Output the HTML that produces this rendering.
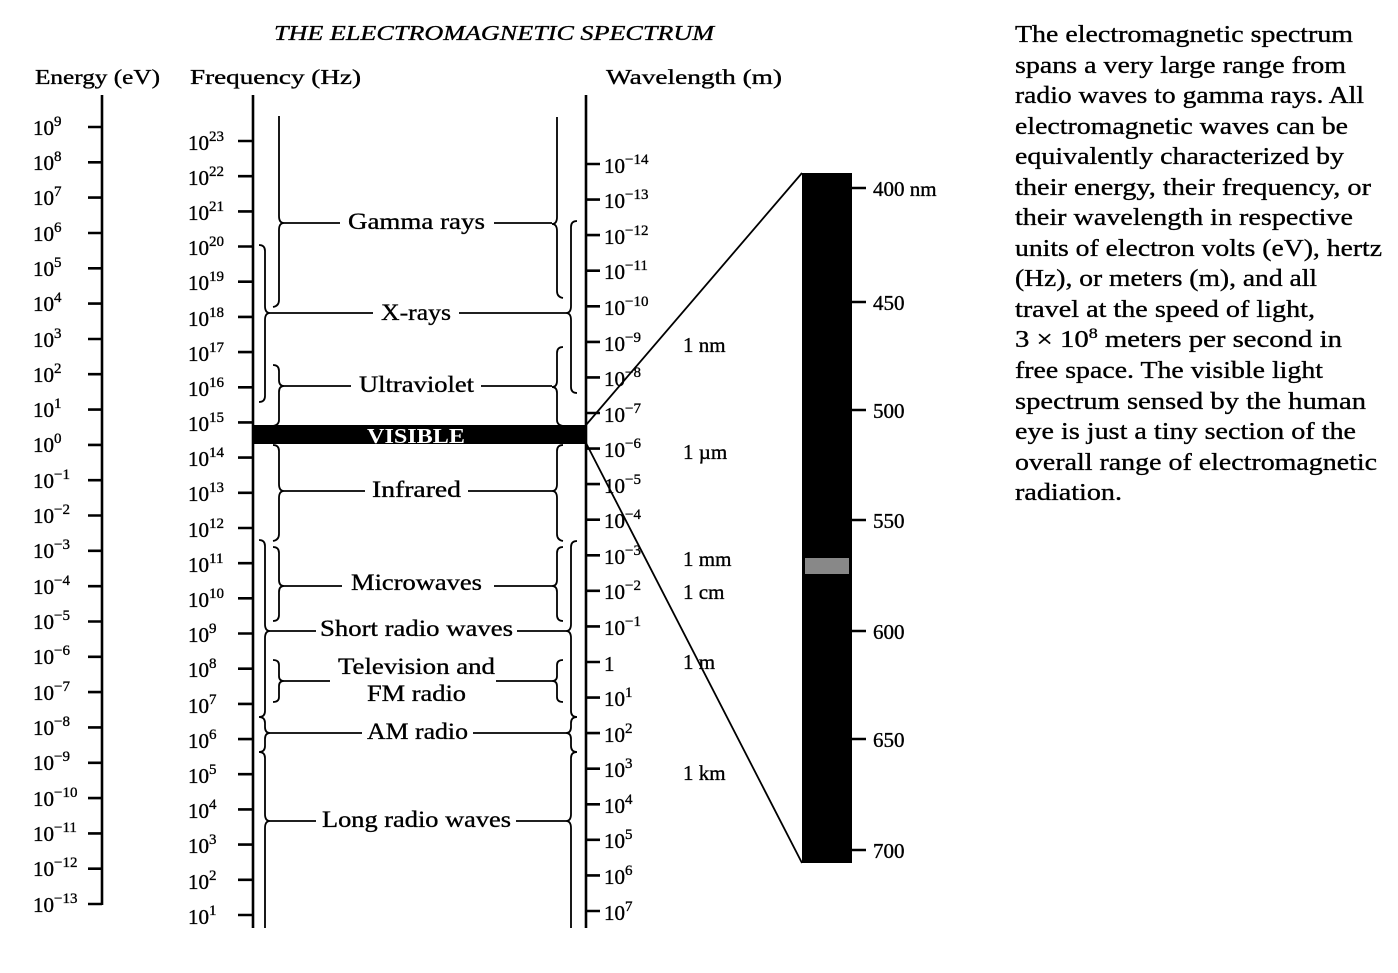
<!DOCTYPE html>
<html><head><meta charset="utf-8"><style>
html,body{margin:0;padding:0;background:#fff;}
svg{display:block;}
text{font-family:"Liberation Serif",serif;fill:#000;stroke:#000;stroke-width:0.35px;}
.n{font-size:21px;}
.s{font-size:15px;}
.lab{font-size:23px;}
.para{font-size:24px;}
</style></head><body>
<svg width="1398" height="973" viewBox="0 0 1398 973" xmlns="http://www.w3.org/2000/svg">
<g stroke="#000" fill="none" stroke-width="2.6">
<line x1="102" y1="95" x2="102" y2="905"/>
<line x1="253" y1="95" x2="253" y2="928"/>
<line x1="586" y1="95" x2="586" y2="928"/>
<path d="M88 127H102M88 162.3H102M88 197.6H102M88 233H102M88 268.3H102M88 303.6H102M88 339H102M88 374.2H102M88 409.6H102M88 444.9H102M88 480.2H102M88 515.5H102M88 550.8H102M88 586.2H102M88 621.5H102M88 656.8H102M88 692.1H102M88 727.4H102M88 762.8H102M88 798.1H102M88 833.4H102M88 868.7H102M88 904H102"/>
<path d="M238 141H253M238 176.2H253M238 211.4H253M238 246.5H253M238 281.7H253M238 316.9H253M238 352.1H253M238 387.3H253M238 422.4H253M238 457.6H253M238 492.8H253M238 528H253M238 563.2H253M238 598.3H253M238 633.5H253M238 668.7H253M238 703.9H253M238 739.1H253M238 774.2H253M238 809.4H253M238 844.6H253M238 879.8H253M238 915H253"/>
<path d="M586 164H600M586 199.6H600M586 235.1H600M586 270.7H600M586 306.3H600M586 341.9H600M586 377.4H600M586 413H600M586 448.6H600M586 484.1H600M586 519.7H600M586 555.3H600M586 590.8H600M586 626.4H600M586 662H600M586 697.6H600M586 733.1H600M586 768.7H600M586 804.3H600M586 839.8H600M586 875.4H600M586 911H600"/>
<path d="M852 188H866M852 302H866M852 410H866M852 520H866M852 631H866M852 739H866M852 850H866"/>
</g>
<g stroke="#000" fill="none" stroke-width="1.8">
<line x1="586" y1="425" x2="802" y2="173"/>
<line x1="586" y1="443" x2="802" y2="863"/>
<path d="M279 116V216Q279 223 284 223Q279 223 279 230V300Q279 306 273 307"/>
<path d="M259 245Q265 245 265 251V306Q265 313 270 313Q265 313 265 320V396Q265 402 259 402"/>
<path d="M273 365Q279 365 279 371V380Q279 386 284 386Q279 386 279 392V420Q279 425 273 426"/>
<path d="M273 445Q279 445 279 451V484Q279 491 284 491Q279 491 279 498V534Q279 540 273 541"/>
<path d="M259 540Q265 540 265 546V624Q265 631 270 631Q265 631 265 638V711Q265 717 259 717Q265 717 265 723V727Q265 733 270 733Q265 733 265 739V746Q265 752 259 752Q265 752 265 758V814Q265 821 270 821Q265 821 265 828V928"/>
<path d="M273 547Q279 547 279 553V580Q279 586 284 586Q279 586 279 592V615Q279 621 273 621"/>
<path d="M273 660Q279 660 279 665V676Q279 681 284 681Q279 681 279 686V697Q279 702 273 702"/>
<path d="M557 117V217Q557 224 552 224Q557 224 557 231V291Q557 297 563 298"/>
<path d="M577 221Q571 221 571 227V306Q571 313 566 313Q571 313 571 320V387Q571 393 577 393"/>
<path d="M563 347Q557 347 557 353V381Q557 387 552 387Q557 387 557 393V420Q557 425 563 426"/>
<path d="M563 445Q557 445 557 451V484Q557 491 552 491Q557 491 557 498V534Q557 540 563 541"/>
<path d="M577 541Q571 541 571 547V624Q571 631 566 631Q571 631 571 638V711Q571 717 577 717Q571 717 571 723V727Q571 733 566 733Q571 733 571 739V746Q571 752 577 752Q571 752 571 758V814Q571 821 566 821Q571 821 571 828V928"/>
<path d="M563 547Q557 547 557 553V580Q557 586 552 586Q557 586 557 592V615Q557 621 563 621"/>
<path d="M563 660Q557 660 557 665V676Q557 681 552 681Q557 681 557 686V697Q557 702 563 702"/>
<path d="M284 223H340M494 223H552"/>
<path d="M270 313H373M459 313H566"/>
<path d="M284 386H351M481 386H552"/>
<path d="M284 491H365M468 491H552"/>
<path d="M284 586H342M494 586H552"/>
<path d="M270 631H316M517 631H566"/>
<path d="M284 681H330M496 681H552"/>
<path d="M270 733H362M473 733H566"/>
<path d="M270 821H316M516 821H566"/>
</g>
<rect x="253" y="425" width="333" height="19" fill="#000"/>
<text x="416" y="443" text-anchor="middle" style="font-size:21px;font-weight:bold;fill:#fff;stroke:none" textLength="98" lengthAdjust="spacingAndGlyphs">VISIBLE</text>
<rect x="802" y="173" width="50" height="690" fill="#000"/>
<rect x="805" y="558" width="44" height="16" fill="#888"/>

<text x="274" y="40" style="font-size:21px;font-style:italic" textLength="440" lengthAdjust="spacingAndGlyphs">THE ELECTROMAGNETIC SPECTRUM</text>
<text x="35" y="84" style="font-size:21px" textLength="125" lengthAdjust="spacingAndGlyphs">Energy (eV)</text>
<text x="190" y="84" style="font-size:21px" textLength="171" lengthAdjust="spacingAndGlyphs">Frequency  (Hz)</text>
<text x="606" y="84" style="font-size:21px" textLength="176" lengthAdjust="spacingAndGlyphs">Wavelength  (m)</text>

<g class="n">
<text x="33" y="135">10<tspan class="s" dy="-9">9</tspan></text>
<text x="33" y="170">10<tspan class="s" dy="-9">8</tspan></text>
<text x="33" y="205">10<tspan class="s" dy="-9">7</tspan></text>
<text x="33" y="241">10<tspan class="s" dy="-9">6</tspan></text>
<text x="33" y="276">10<tspan class="s" dy="-9">5</tspan></text>
<text x="33" y="311">10<tspan class="s" dy="-9">4</tspan></text>
<text x="33" y="347">10<tspan class="s" dy="-9">3</tspan></text>
<text x="33" y="382">10<tspan class="s" dy="-9">2</tspan></text>
<text x="33" y="417">10<tspan class="s" dy="-9">1</tspan></text>
<text x="33" y="452">10<tspan class="s" dy="-9">0</tspan></text>
<text x="33" y="488">10<tspan class="s" dy="-9">−1</tspan></text>
<text x="33" y="523">10<tspan class="s" dy="-9">−2</tspan></text>
<text x="33" y="558">10<tspan class="s" dy="-9">−3</tspan></text>
<text x="33" y="594">10<tspan class="s" dy="-9">−4</tspan></text>
<text x="33" y="629">10<tspan class="s" dy="-9">−5</tspan></text>
<text x="33" y="664">10<tspan class="s" dy="-9">−6</tspan></text>
<text x="33" y="700">10<tspan class="s" dy="-9">−7</tspan></text>
<text x="33" y="735">10<tspan class="s" dy="-9">−8</tspan></text>
<text x="33" y="770">10<tspan class="s" dy="-9">−9</tspan></text>
<text x="33" y="806">10<tspan class="s" dy="-9">−10</tspan></text>
<text x="33" y="841">10<tspan class="s" dy="-9">−11</tspan></text>
<text x="33" y="876">10<tspan class="s" dy="-9">−12</tspan></text>
<text x="33" y="912">10<tspan class="s" dy="-9">−13</tspan></text>
</g>
<g class="n">
<text x="188" y="150">10<tspan class="s" dy="-9">23</tspan></text>
<text x="188" y="185">10<tspan class="s" dy="-9">22</tspan></text>
<text x="188" y="220">10<tspan class="s" dy="-9">21</tspan></text>
<text x="188" y="255">10<tspan class="s" dy="-9">20</tspan></text>
<text x="188" y="290">10<tspan class="s" dy="-9">19</tspan></text>
<text x="188" y="326">10<tspan class="s" dy="-9">18</tspan></text>
<text x="188" y="361">10<tspan class="s" dy="-9">17</tspan></text>
<text x="188" y="396">10<tspan class="s" dy="-9">16</tspan></text>
<text x="188" y="431">10<tspan class="s" dy="-9">15</tspan></text>
<text x="188" y="466">10<tspan class="s" dy="-9">14</tspan></text>
<text x="188" y="501">10<tspan class="s" dy="-9">13</tspan></text>
<text x="188" y="537">10<tspan class="s" dy="-9">12</tspan></text>
<text x="188" y="572">10<tspan class="s" dy="-9">11</tspan></text>
<text x="188" y="607">10<tspan class="s" dy="-9">10</tspan></text>
<text x="188" y="642">10<tspan class="s" dy="-9">9</tspan></text>
<text x="188" y="677">10<tspan class="s" dy="-9">8</tspan></text>
<text x="188" y="713">10<tspan class="s" dy="-9">7</tspan></text>
<text x="188" y="748">10<tspan class="s" dy="-9">6</tspan></text>
<text x="188" y="783">10<tspan class="s" dy="-9">5</tspan></text>
<text x="188" y="818">10<tspan class="s" dy="-9">4</tspan></text>
<text x="188" y="853">10<tspan class="s" dy="-9">3</tspan></text>
<text x="188" y="889">10<tspan class="s" dy="-9">2</tspan></text>
<text x="188" y="924">10<tspan class="s" dy="-9">1</tspan></text>
</g>
<g class="n">
<text x="604" y="173">10<tspan class="s" dy="-9">−14</tspan></text>
<text x="604" y="208">10<tspan class="s" dy="-9">−13</tspan></text>
<text x="604" y="244">10<tspan class="s" dy="-9">−12</tspan></text>
<text x="604" y="279">10<tspan class="s" dy="-9">−11</tspan></text>
<text x="604" y="315">10<tspan class="s" dy="-9">−10</tspan></text>
<text x="604" y="351">10<tspan class="s" dy="-9">−9</tspan></text>
<text x="604" y="386">10<tspan class="s" dy="-9">−8</tspan></text>
<text x="604" y="422">10<tspan class="s" dy="-9">−7</tspan></text>
<text x="604" y="457">10<tspan class="s" dy="-9">−6</tspan></text>
<text x="604" y="493">10<tspan class="s" dy="-9">−5</tspan></text>
<text x="604" y="528">10<tspan class="s" dy="-9">−4</tspan></text>
<text x="604" y="564">10<tspan class="s" dy="-9">−3</tspan></text>
<text x="604" y="599">10<tspan class="s" dy="-9">−2</tspan></text>
<text x="604" y="635">10<tspan class="s" dy="-9">−1</tspan></text>
<text x="604" y="671">1</text>
<text x="604" y="706">10<tspan class="s" dy="-9">1</tspan></text>
<text x="604" y="742">10<tspan class="s" dy="-9">2</tspan></text>
<text x="604" y="777">10<tspan class="s" dy="-9">3</tspan></text>
<text x="604" y="813">10<tspan class="s" dy="-9">4</tspan></text>
<text x="604" y="848">10<tspan class="s" dy="-9">5</tspan></text>
<text x="604" y="884">10<tspan class="s" dy="-9">6</tspan></text>
<text x="604" y="920">10<tspan class="s" dy="-9">7</tspan></text>
</g>
<g class="n">
<text x="683" y="352">1 nm</text>
<text x="683" y="459">1 µm</text>
<text x="683" y="566">1 mm</text>
<text x="683" y="599">1 cm</text>
<text x="683" y="669">1 m</text>
<text x="683" y="780">1 km</text>
<text x="873" y="196">400 nm</text>
<text x="873" y="310">450</text>
<text x="873" y="418">500</text>
<text x="873" y="528">550</text>
<text x="873" y="639">600</text>
<text x="873" y="747">650</text>
<text x="873" y="858">700</text>
</g>
<g class="lab">
<text x="348" y="229" textLength="137" lengthAdjust="spacingAndGlyphs">Gamma rays</text>
<text x="381" y="320" textLength="70" lengthAdjust="spacingAndGlyphs">X-rays</text>
<text x="359" y="392" textLength="115" lengthAdjust="spacingAndGlyphs">Ultraviolet</text>
<text x="372" y="497" textLength="89" lengthAdjust="spacingAndGlyphs">Infrared</text>
<text x="351" y="590" textLength="131" lengthAdjust="spacingAndGlyphs">Microwaves</text>
<text x="320" y="636" textLength="193" lengthAdjust="spacingAndGlyphs">Short radio waves</text>
<text x="338" y="674" textLength="157" lengthAdjust="spacingAndGlyphs">Television and</text>
<text x="367" y="701" textLength="99" lengthAdjust="spacingAndGlyphs">FM radio</text>
<text x="367" y="739" textLength="101" lengthAdjust="spacingAndGlyphs">AM radio</text>
<text x="322" y="827" textLength="189" lengthAdjust="spacingAndGlyphs">Long radio waves</text>
</g>
<g class="para">
<text x="1015" y="42" textLength="338" lengthAdjust="spacingAndGlyphs">The electromagnetic spectrum</text>
<text x="1015" y="73" textLength="331" lengthAdjust="spacingAndGlyphs">spans a very large range from</text>
<text x="1015" y="103" textLength="349" lengthAdjust="spacingAndGlyphs">radio waves to gamma rays. All</text>
<text x="1015" y="134" textLength="333" lengthAdjust="spacingAndGlyphs">electromagnetic waves can be</text>
<text x="1015" y="164" textLength="329" lengthAdjust="spacingAndGlyphs">equivalently characterized by</text>
<text x="1015" y="195" textLength="356" lengthAdjust="spacingAndGlyphs">their energy, their frequency, or</text>
<text x="1015" y="225" textLength="338" lengthAdjust="spacingAndGlyphs">their wavelength in respective</text>
<text x="1015" y="256" textLength="367" lengthAdjust="spacingAndGlyphs">units of electron volts (eV), hertz</text>
<text x="1015" y="286" textLength="302" lengthAdjust="spacingAndGlyphs">(Hz), or meters (m), and all</text>
<text x="1015" y="317" textLength="300" lengthAdjust="spacingAndGlyphs">travel at the speed of light,</text>
<text x="1015" y="347" textLength="327" lengthAdjust="spacingAndGlyphs">3 × 10<tspan style="font-size:15px" dy="-9">8</tspan><tspan dy="9"> meters per second in</tspan></text>
<text x="1015" y="378" textLength="308" lengthAdjust="spacingAndGlyphs">free space. The visible light</text>
<text x="1015" y="409" textLength="351" lengthAdjust="spacingAndGlyphs">spectrum sensed by the human</text>
<text x="1015" y="439" textLength="341" lengthAdjust="spacingAndGlyphs">eye is just a tiny section of the</text>
<text x="1015" y="470" textLength="362" lengthAdjust="spacingAndGlyphs">overall range of electromagnetic</text>
<text x="1015" y="500" textLength="107" lengthAdjust="spacingAndGlyphs">radiation.</text>
</g>
</svg>
</body></html>
